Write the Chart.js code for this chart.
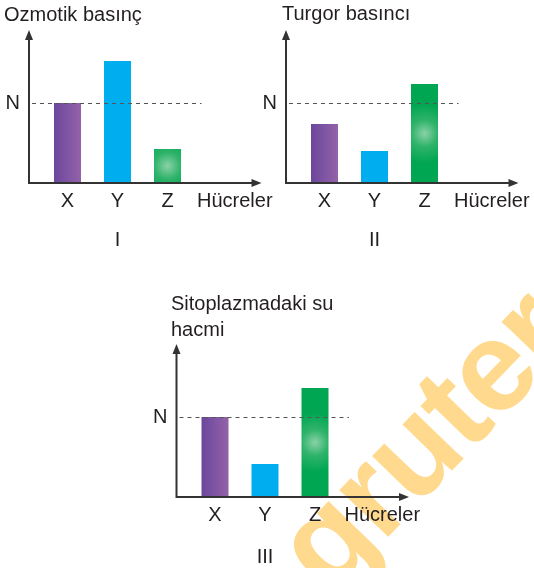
<!DOCTYPE html>
<html>
<head>
<meta charset="utf-8">
<script src="https://cdn.jsdelivr.net/npm/chart.js@4/dist/chart.umd.min.js"></script>
<style>
    body { margin: 0; background: #fff; width: 534px; height: 568px; overflow: hidden; position: relative; }
    canvas { position: absolute; }
</style>
</head>
<body>
<canvas id="watermark" width="534" height="568" style="left:0;top:0"></canvas>
<canvas id="chart1" width="290" height="250" style="left:0;top:0"></canvas>
<canvas id="chart2" width="284" height="250" style="left:250px;top:0"></canvas>
<canvas id="chart3" width="300" height="288" style="left:140px;top:280px"></canvas>
<script>
// values (N level = 80)
const categories = ["X", "Y", "Z"];
const osmoticValues = [80, 122, 34];
const turgorValues = [59, 32, 99];
const waterValues = [80, 33, 109];
const nLevel = 80;
const axisMax = 153;
const nLabel = "N";
const cellLabel = "Hücreler";

const FONT = '20px "Liberation Sans", Arial, sans-serif';
const INK = "#231f20";
const BAR_SHARE = 0.54;

// watermark behind everything
(function () {
    let ctx = document.getElementById("watermark").getContext("2d");
    ctx.save();
    ctx.translate(329, 598);
    ctx.rotate(-46 * Math.PI / 180);
    ctx.font = 'bold 128px "Liberation Sans", Arial, sans-serif';
    ctx.letterSpacing = "-2px";
    ctx.fillStyle = "#ffda8e";
    ctx.fillText("gruter", 0, 0);
    ctx.restore();
})();

function barFill(c) {
    let chart = c.chart;
    let i = c.dataIndex;
    if (!chart.chartArea || i === undefined) return "#999";
    let xs = chart.scales.x, ys = chart.scales.y;
    let cx = xs.getPixelForValue(i);
    let w = xs.width / categories.length * BAR_SHARE;
    let g = chart.ctx;
    if (i === 0) {
        let gr = g.createLinearGradient(cx - w / 2, 0, cx + w / 2, 0);
        gr.addColorStop(0, "#6c479c");
        gr.addColorStop(0.45, "#7d53a3");
        gr.addColorStop(1, "#9462a8");
        return gr;
    }
    if (i === 1) return "#00aeef";
    let top = ys.getPixelForValue(c.raw), bottom = ys.getPixelForValue(0);
    let cy = (top + bottom) / 2;
    let gr = g.createRadialGradient(cx, cy, 0, cx, cy, w * 1.1);
    gr.addColorStop(0, "#8ad2a6");
    gr.addColorStop(0.45, "#2eb36b");
    gr.addColorStop(1, "#00a651");
    return gr;
}

function arrow(ctx, x, y, dir) {
    ctx.beginPath();
    if (dir === "up") {
        ctx.moveTo(x, y);
        ctx.lineTo(x - 4, y + 10);
        ctx.lineTo(x + 4, y + 10);
    } else {
        ctx.moveTo(x, y);
        ctx.lineTo(x - 10, y - 4);
        ctx.lineTo(x - 10, y + 4);
    }
    ctx.closePath();
    ctx.fill();
}

// axes, N line and texts drawn like the printed figure
const sketchPlugin = {
    id: "sketch",
    afterDatasetsDraw(chart, args, opts) {
        let ctx = chart.ctx;
        let area = chart.chartArea;
        let xs = chart.scales.x, ys = chart.scales.y;
        let ax = area.left - 13.5;
        let base = ys.getPixelForValue(0);
        let nY = ys.getPixelForValue(nLevel);
        let arrowEnd = area.right + 69;

        ctx.save();
        // dashed N line
        ctx.strokeStyle = "#555";
        ctx.lineWidth = 1;
        ctx.setLineDash([4, 4]);
        ctx.beginPath();
        ctx.moveTo(ax + 3, nY + 0.5);
        ctx.lineTo(area.right + 9, nY + 0.5);
        ctx.stroke();
        ctx.setLineDash([]);

        // axes
        ctx.strokeStyle = "#333";
        ctx.fillStyle = "#333";
        ctx.lineWidth = 2;
        ctx.beginPath();
        ctx.moveTo(ax, area.top + 6);
        ctx.lineTo(ax, base);
        ctx.lineTo(arrowEnd - 6, base);
        ctx.stroke();
        arrow(ctx, ax, area.top, "up");
        arrow(ctx, arrowEnd, base, "right");

        // texts
        ctx.fillStyle = INK;
        ctx.font = FONT;
        ctx.textBaseline = "middle";
        ctx.textAlign = "right";
        ctx.fillText(nLabel, ax - 9, nY);
        ctx.textAlign = "center";
        categories.forEach((c, i) => ctx.fillText(c, xs.getPixelForValue(i), base + 18));
        ctx.fillText(opts.roman, xs.getPixelForValue(1), base + opts.romanGap);
        ctx.textAlign = "left";
        ctx.fillText(cellLabel, area.right + 4.5, base + 18);
        opts.title.forEach((line, k) => ctx.fillText(line, opts.titleX, opts.titleY + k * 26));
        ctx.restore();
    }
};

function makeChart(id, values, padding, extra) {
    return new Chart(document.getElementById(id), {
        type: "bar",
        data: {
            labels: categories,
            datasets: [{ data: values, backgroundColor: barFill, borderWidth: 0, categoryPercentage: 1, barPercentage: BAR_SHARE }]
        },
        options: {
            responsive: false,
            animation: false,
            layout: { padding: padding },
            scales: {
                x: { display: false },
                y: { display: false, min: 0, max: axisMax }
            },
            plugins: {
                legend: { display: false },
                tooltip: { enabled: false },
                sketch: extra
            }
        },
        plugins: [sketchPlugin]
    });
}

makeChart("chart1", osmoticValues, { left: 42.5, right: 97.5, top: 30, bottom: 67 },
    { title: ["Ozmotik basınç"], titleX: 4, titleY: 15, roman: "I", romanGap: 57 });
makeChart("chart2", turgorValues, { left: 49.5, right: 84.5, top: 30, bottom: 67 },
    { title: ["Turgor basıncı"], titleX: 32, titleY: 14, roman: "II", romanGap: 57 });
makeChart("chart3", waterValues, { left: 50, right: 100, top: 64, bottom: 71 },
    { title: ["Sitoplazmadaki su", "hacmi"], titleX: 31, titleY: 24, roman: "III", romanGap: 60 });
</script>
</body>
</html>
